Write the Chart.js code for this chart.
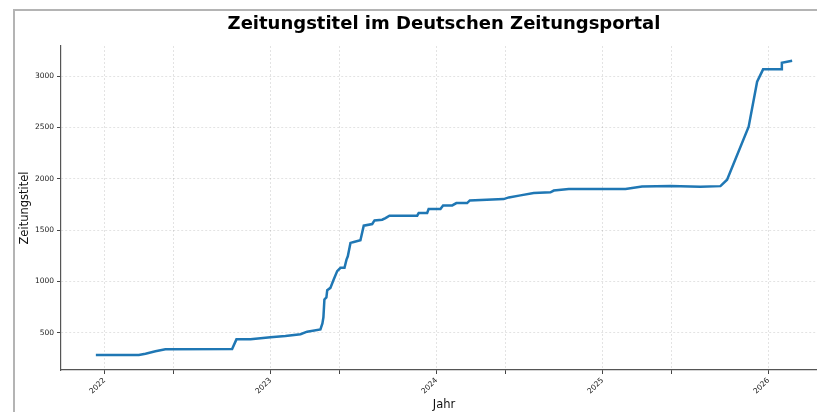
<!DOCTYPE html>
<html>
<head>
<meta charset="utf-8">
<script src="https://cdn.jsdelivr.net/npm/chart.js@4/dist/chart.umd.min.js"></script>
<style>
  html, body { margin: 0; padding: 0; background: #fff; overflow: hidden; }
  #wrap { position: relative; width: 817px; height: 412px; overflow: hidden; }
  #grafico { position: absolute; left: 0; top: 0; }
  #rahmen {
    position: absolute; left: 13px; top: 9px; width: 900px; height: 500px;
    border-left: 2px solid #b4b4b4; border-top: 2px solid #b4b4b4;
    pointer-events: none;
  }
</style>
</head>
<body>
<div id="wrap">
  <canvas id="grafico" width="830" height="412"></canvas>
  <div id="rahmen"></div>
</div>
<script>
// Zeitpunkte als Dezimaljahre
const jahre = [
  2021.948, 2022.207, 2022.247, 2022.307, 2022.367, 2022.769, 2022.795, 2022.880,
  2023.000, 2023.090, 2023.181, 2023.221, 2023.301, 2023.313, 2023.319, 2023.325,
  2023.337, 2023.342, 2023.361, 2023.381, 2023.402, 2023.422, 2023.446, 2023.458,
  2023.466, 2023.482, 2023.502, 2023.542, 2023.562, 2023.613, 2023.627, 2023.673,
  2023.693, 2023.717, 2023.884, 2023.893, 2023.944, 2023.953, 2024.024, 2024.040,
  2024.095, 2024.120, 2024.185, 2024.201, 2024.405, 2024.436, 2024.506, 2024.586,
  2024.687, 2024.707, 2024.797, 2025.139, 2025.239, 2025.410, 2025.590, 2025.711,
  2025.751, 2025.881, 2025.932, 2025.968, 2026.078, 2026.081, 2026.143
];
const zeitungstitel = [
  282, 282, 295, 320, 338, 342, 435, 435,
  455, 468, 485, 510, 532, 590, 650, 824,
  843, 914, 937, 1018, 1100, 1132, 1132, 1212,
  1244, 1375, 1384, 1400, 1543, 1559, 1594, 1601,
  1617, 1640, 1640, 1666, 1666, 1705, 1705, 1740,
  1740, 1763, 1763, 1789, 1802, 1818, 1838, 1860,
  1868, 1885, 1900, 1900, 1925, 1930, 1922, 1928,
  1990, 2508, 2945, 3066, 3066, 3130, 3149
];

const yTicks = [500, 1000, 1500, 2000, 2500, 3000];
const xTicks = [2022, 2022.414, 2023, 2023.414, 2024, 2024.414, 2025, 2025.414, 2026];
const xTickLabels = ["2022", "", "2023", "", "2024", "", "2025", "", "2026"];

const punkte = jahre.map((j, i) => ({ x: j, y: zeitungstitel[i] }));

const schrift = "'DejaVu Sans', sans-serif";
const gitter = {
  color: 'rgba(0,0,0,0.14)',
  lineWidth: 0.8,
  tickColor: '#444',
  tickLength: 4,
  tickWidth: 1,
  tickBorderDash: []
};
const rand = { display: true, color: '#555', width: 1.2, dash: [2, 2] };

new Chart(document.getElementById("grafico"), {
  type: 'line',
  data: {
    datasets: [{
      data: punkte,
      borderColor: '#1f77b4',
      borderWidth: 2.5,
      pointRadius: 0,
      tension: 0,
      fill: false
    }]
  },
  options: {
    responsive: false,
    animation: false,
    devicePixelRatio: 1,
    layout: { padding: { left: 0, right: 3, top: 0, bottom: 0 } },
    plugins: {
      legend: { display: false },
      tooltip: { enabled: false },
      title: {
        display: true,
        text: 'Zeitungstitel im Deutschen Zeitungsportal',
        fullSize: false,
        color: '#000',
        font: { family: schrift, size: 18, weight: 'bold' },
        padding: { top: 14, bottom: 10.4 }
      }
    },
    scales: {
      x: {
        type: 'linear',
        min: 2021.738,
        max: 2026.353,
        afterBuildTicks: s => { s.ticks = xTicks.map(v => ({ value: v })); },
        afterFit: s => { s.height = 42; },
        ticks: {
          autoSkip: false,
          minRotation: 45,
          maxRotation: 45,
          padding: 2,
          color: '#222',
          font: { family: schrift, size: 7.5 },
          callback: (v, i) => xTickLabels[i]
        },
        grid: gitter,
        border: rand,
        title: {
          display: true,
          text: 'Jahr',
          color: '#111',
          font: { family: schrift, size: 11.5 },
          padding: { top: 0, bottom: 0.5 }
        }
      },
      y: {
        type: 'linear',
        min: 136.5,
        max: 3293.5,
        afterBuildTicks: s => { s.ticks = yTicks.map(v => ({ value: v })); },
        afterFit: s => { s.width = 61; },
        ticks: {
          padding: 3,
          color: '#222',
          font: { family: schrift, size: 7.5 },
          callback: v => String(v)
        },
        grid: gitter,
        border: rand,
        title: {
          display: true,
          text: 'Zeitungstitel',
          color: '#111',
          font: { family: schrift, size: 11.5 },
          padding: { top: 18, bottom: 0 }
        }
      }
    }
  }
});
</script>
</body>
</html>
